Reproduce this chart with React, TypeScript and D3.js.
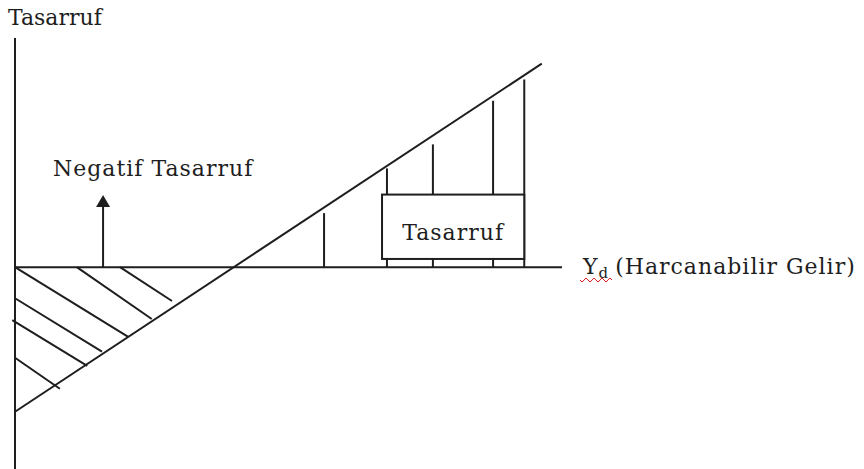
import React from 'react';
import * as d3 from 'd3';

// income (Yd) on x, savings on y, arbitrary units
const axisX = [0, 100];
const axisY = [-37, 42];

const savingsLine = [
  { yd: 0, s: -26.5 },
  { yd: 96.3, s: 37.3 },
];

// hatch strokes in the negative-savings triangle
const hatch = [
  { yd1: 0, s1: 0, yd2: 20.7, s2: -12.8 },
  { yd1: 11.3, s1: 0, yd2: 25.0, s2: -9.5 },
  { yd1: 19.2, s1: 0, yd2: 28.7, s2: -6.2 },
  { yd1: 0, s1: -5.7, yd2: 15.9, s2: -15.5 },
  { yd1: -0.5, s1: -9.7, yd2: 13.2, s2: -18.1 },
  { yd1: 0, s1: -16.6, yd2: 8.2, s2: -22.3 },
];

// vertical savings bars
const barIncome = [56.5, 68.0, 76.4, 87.4, 93.1];
const barTop = [9.9, 18.1, 22.5, 30.5, 34.4];

const box = { yd1: 67.1, yd2: 93.1, s1: 1.5, s2: 13.3 };
const arrow = { yd: 16.1, s: 13.2 };

const W = 864;
const H = 469;

export default function App() {
  const x = d3.scaleLinear().domain(axisX).range([15, 562]);
  const y = d3.scaleLinear().domain(axisY).range([469, 38]);

  const ink = '#1e1e1e';
  const txt = { fontFamily: "'DejaVu Serif', serif", fill: ink };

  const line = d3.line<{ yd: number; s: number }>()
    .x(d => x(d.yd))
    .y(d => y(d.s));

  const ax = x(arrow.yd);
  const tip = y(arrow.s);

  // spell-check squiggle under Yd
  let squig = 'M580,280';
  for (let i = 0; i < 8; i++) {
    squig += ` l2,${i % 2 === 0 ? 2 : -2} l2,${i % 2 === 0 ? -2 : 2}`;
  }

  return (
    <svg width={W} height={H} style={{ position: 'absolute', left: 0, top: 0, background: '#fff' }}>
      {/* axes */}
      <line x1={x(0)} x2={x(0)} y1={y(axisY[1])} y2={y(axisY[0])} stroke={ink} strokeWidth={2} />
      <line x1={x(axisX[0])} x2={x(axisX[1])} y1={y(0)} y2={y(0)} stroke={ink} strokeWidth={2} />

      {/* hatch */}
      {hatch.map((h, i) => (
        <line key={i} x1={x(h.yd1)} y1={y(h.s1)} x2={x(h.yd2)} y2={y(h.s2)} stroke={ink} strokeWidth={2} />
      ))}

      {/* bars */}
      {barIncome.map((v, i) => (
        <line key={i} x1={x(v)} x2={x(v)} y1={y(0)} y2={y(barTop[i])} stroke={ink} strokeWidth={2} />
      ))}

      {/* savings function */}
      <path d={line(savingsLine) || ''} fill="none" stroke={ink} strokeWidth={2} />

      {/* label box */}
      <rect x={x(box.yd1)} y={y(box.s2)} width={x(box.yd2) - x(box.yd1)} height={y(box.s1) - y(box.s2)}
        fill="#fff" stroke={ink} strokeWidth={2} />
      <text x={(x(box.yd1) + x(box.yd2)) / 2} y={240} textAnchor="middle" fontSize={22}
        letterSpacing={1} style={txt}>Tasarruf</text>

      {/* arrow */}
      <line x1={ax} x2={ax} y1={y(0)} y2={tip + 10} stroke={ink} strokeWidth={2} />
      <path d={`M${ax},${tip} L${ax - 7},${tip + 12} L${ax + 7},${tip + 12} Z`} fill={ink} />

      {/* texts */}
      <text x={8} y={25} fontSize={22} style={txt}>Tasarruf</text>
      <text x={53} y={176} fontSize={22} letterSpacing={1} style={txt}>Negatif Tasarruf</text>
      <text x={583} y={274} fontSize={22} letterSpacing={1} style={txt}>
        Y<tspan fontSize={15} dy={4}>d</tspan>
        <tspan dy={-4} dx={6}>(Harcanabilir Gelir)</tspan>
      </text>
      <path d={squig} fill="none" stroke="#e02020" strokeWidth={1} />
    </svg>
  );
}
